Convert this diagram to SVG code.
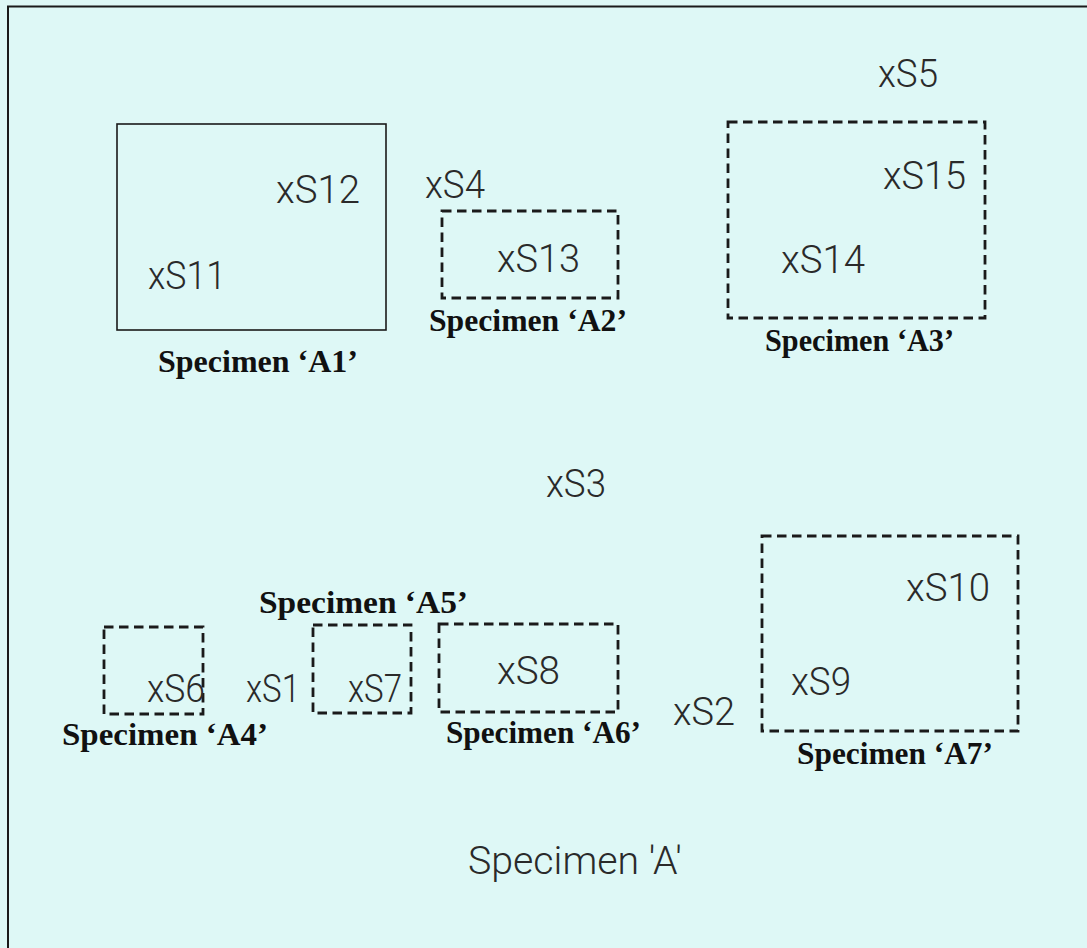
<svg xmlns="http://www.w3.org/2000/svg" width="1087" height="948" viewBox="0 0 1087 948">
<style>
.bg{fill:#def8f6}
.frame{fill:none;stroke:#1a1a1a;stroke-width:2}
.solid{fill:none;stroke:#1a1a1a;stroke-width:1.6}
.dash{fill:none;stroke:#1a1a1a;stroke-width:2.8;stroke-dasharray:9.5 5.5}
.pt{font-family:Roboto,"Open Sans","DejaVu Sans",sans-serif;font-weight:300;font-size:38px;fill:#2a2a2a}
.lbl{font-family:"Liberation Serif","Times New Roman",serif;font-weight:bold;font-size:31px;fill:#111}
.title{font-family:Roboto,"Open Sans","DejaVu Sans",sans-serif;font-weight:300;font-size:38px;fill:#2a2a2a}
</style>
<rect class="bg" x="0" y="0" width="1087" height="948"/>
<path class="frame" d="M8 948 V6.5 H1087"/>
<g id="A1">
<rect class="solid" x="117" y="124" width="269" height="206"/>
<text class="pt" x="276" y="203" textLength="84" lengthAdjust="spacingAndGlyphs">xS12</text>
<text class="pt" x="148" y="289" textLength="78" lengthAdjust="spacingAndGlyphs">xS11</text>
<text class="lbl" x="158" y="372" textLength="200" lengthAdjust="spacingAndGlyphs">Specimen ‘A1’</text>
</g>
<g id="S4"><text class="pt" x="425" y="198" textLength="60" lengthAdjust="spacingAndGlyphs">xS4</text></g>
<g id="A2">
<rect class="dash" x="442" y="211" width="176" height="87"/>
<text class="pt" x="497" y="272" textLength="83" lengthAdjust="spacingAndGlyphs">xS13</text>
<text class="lbl" x="429" y="331" textLength="198" lengthAdjust="spacingAndGlyphs">Specimen ‘A2’</text>
</g>
<g id="S5"><text class="pt" x="878" y="87" textLength="60" lengthAdjust="spacingAndGlyphs">xS5</text></g>
<g id="A3">
<rect class="dash" x="728" y="122" width="257" height="196"/>
<text class="pt" x="883" y="189" textLength="83" lengthAdjust="spacingAndGlyphs">xS15</text>
<text class="pt" x="781" y="273" textLength="84" lengthAdjust="spacingAndGlyphs">xS14</text>
<text class="lbl" x="765" y="351" textLength="189" lengthAdjust="spacingAndGlyphs">Specimen ‘A3’</text>
</g>
<g id="S3"><text class="pt" x="546" y="497" textLength="60" lengthAdjust="spacingAndGlyphs">xS3</text></g>
<g id="A4">
<rect class="dash" x="104" y="627" width="99" height="87"/>
<text class="pt" x="147" y="702" textLength="58" lengthAdjust="spacingAndGlyphs">xS6</text>
<text class="lbl" x="62" y="745" textLength="206" lengthAdjust="spacingAndGlyphs">Specimen ‘A4’</text>
</g>
<g id="S1"><text class="pt" x="246" y="702" textLength="54" lengthAdjust="spacingAndGlyphs">xS1</text></g>
<g id="A5">
<rect class="dash" x="313" y="625" width="98" height="88"/>
<text class="pt" x="348" y="702" textLength="54" lengthAdjust="spacingAndGlyphs">xS7</text>
<text class="lbl" x="259" y="613" textLength="209" lengthAdjust="spacingAndGlyphs">Specimen ‘A5’</text>
</g>
<g id="A6">
<rect class="dash" x="439" y="624" width="179" height="88"/>
<text class="pt" x="497" y="684" textLength="63" lengthAdjust="spacingAndGlyphs">xS8</text>
<text class="lbl" x="446" y="743" textLength="195" lengthAdjust="spacingAndGlyphs">Specimen ‘A6’</text>
</g>
<g id="S2"><text class="pt" x="673" y="725" textLength="62" lengthAdjust="spacingAndGlyphs">xS2</text></g>
<g id="A7">
<rect class="dash" x="762" y="536" width="256" height="195"/>
<text class="pt" x="906" y="601" textLength="84" lengthAdjust="spacingAndGlyphs">xS10</text>
<text class="pt" x="791" y="695" textLength="60" lengthAdjust="spacingAndGlyphs">xS9</text>
<text class="lbl" x="797" y="764" textLength="196" lengthAdjust="spacingAndGlyphs">Specimen ‘A7’</text>
</g>
<g id="title"><text class="title" x="468" y="874" textLength="214" lengthAdjust="spacingAndGlyphs">Specimen 'A'</text></g>
</svg>
